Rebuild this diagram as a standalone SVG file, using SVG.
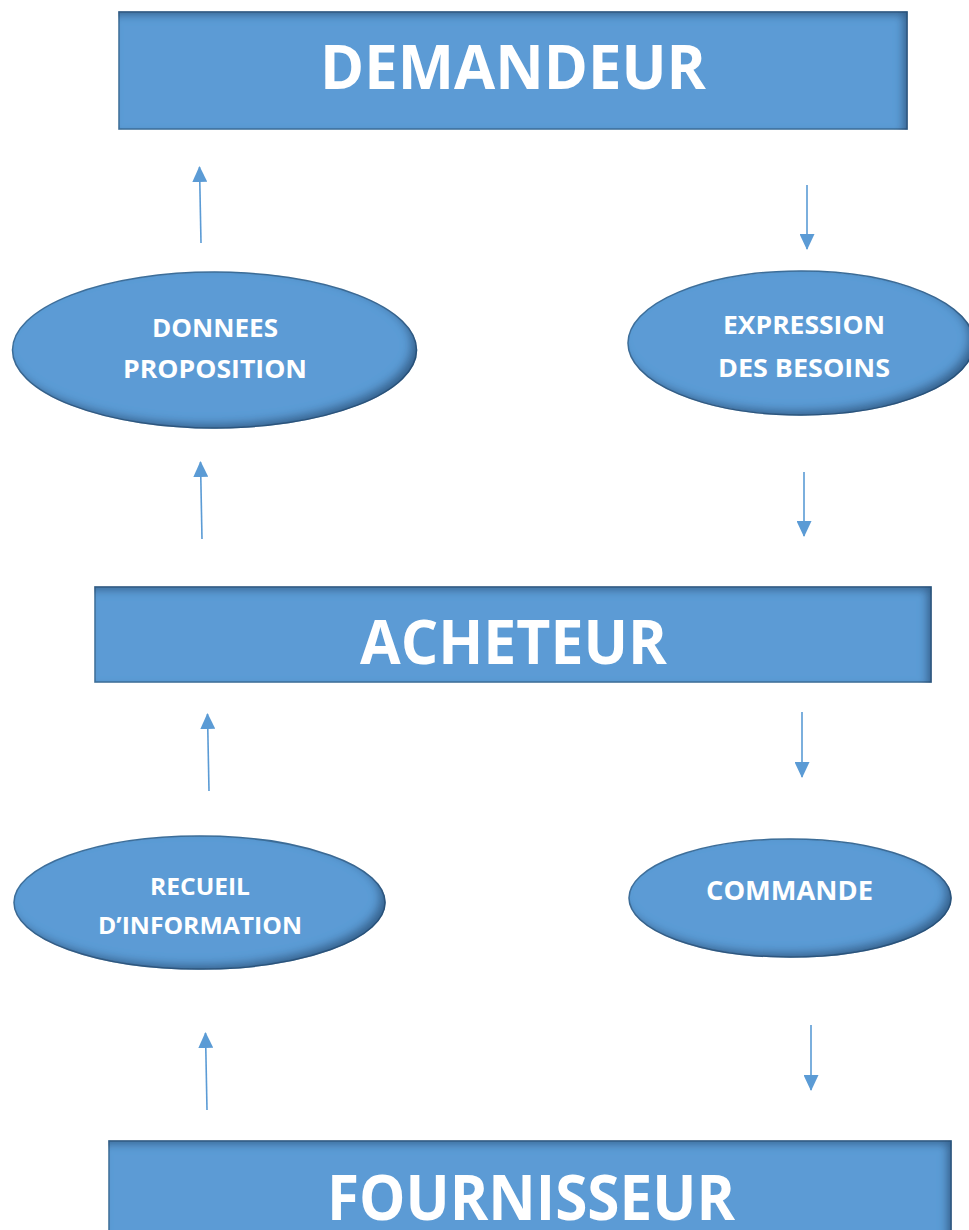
<svg xmlns="http://www.w3.org/2000/svg" width="969" height="1230" viewBox="0 0 969 1230">
  <style>
    .box { fill: #5b9bd5; stroke: #41719c; stroke-width: 1.5; }
    .big { font-family: "Open Sans", "Liberation Sans", sans-serif; font-weight: 700; fill: #ffffff; text-anchor: middle; }
    .lbl { font-family: "Open Sans", "Liberation Sans", sans-serif; font-weight: 700; fill: #ffffff; text-anchor: middle; }
    .conn { stroke: #5b9bd5; stroke-width: 1.6; fill: none; }
  </style>
  <defs>
    <filter id="insetRect" x="-5%" y="-10%" width="110%" height="120%">
      <feComponentTransfer in="SourceAlpha" result="inv"><feFuncA type="table" tableValues="1 0"/></feComponentTransfer>
      <feOffset in="inv" dx="-5" dy="4" result="off"/>
      <feGaussianBlur in="off" stdDeviation="4" result="blur"/>
      <feFlood flood-color="#1f3f66" flood-opacity="0.75"/>
      <feComposite in2="blur" operator="in" result="shadow"/>
      <feComposite in="shadow" in2="SourceAlpha" operator="in" result="inner"/>
      <feMerge><feMergeNode in="SourceGraphic"/><feMergeNode in="inner"/></feMerge>
    </filter>
    <filter id="insetEll" x="-10%" y="-15%" width="120%" height="130%">
      <feComponentTransfer in="SourceAlpha" result="inv"><feFuncA type="table" tableValues="1 0"/></feComponentTransfer>
      <feOffset in="inv" dx="-6" dy="-5" result="off"/>
      <feGaussianBlur in="off" stdDeviation="5" result="blur"/>
      <feFlood flood-color="#1f3f66" flood-opacity="0.75"/>
      <feComposite in2="blur" operator="in" result="shadow"/>
      <feComposite in="shadow" in2="SourceAlpha" operator="in" result="inner"/>
      <feMerge><feMergeNode in="SourceGraphic"/><feMergeNode in="inner"/></feMerge>
    </filter>
    <marker id="arrow" viewBox="0 0 16 15" refX="15" refY="7.5" markerWidth="16" markerHeight="15" markerUnits="userSpaceOnUse" orient="auto">
      <path d="M0,0 L16,7.5 L0,15 z" fill="#5b9bd5"/>
    </marker>
  </defs>

  <g id="demandeur">
    <rect class="box" x="119" y="12" width="788" height="117" filter="url(#insetRect)"/>
    <text class="big" x="513" y="89" font-size="60" textLength="386" lengthAdjust="spacingAndGlyphs">DEMANDEUR</text>
  </g>

  <g id="donnees">
    <ellipse class="box" cx="214.5" cy="350" rx="202" ry="78" filter="url(#insetEll)"/>
    <text class="lbl" x="215" y="337" font-size="25" textLength="126" lengthAdjust="spacingAndGlyphs">DONNEES</text>
    <text class="lbl" x="215" y="378" font-size="25" textLength="184" lengthAdjust="spacingAndGlyphs">PROPOSITION</text>
  </g>

  <g id="expression">
    <ellipse class="box" cx="801" cy="343" rx="173" ry="72" filter="url(#insetEll)"/>
    <text class="lbl" x="804" y="334" font-size="25" textLength="162" lengthAdjust="spacingAndGlyphs">EXPRESSION</text>
    <text class="lbl" x="804" y="377" font-size="25" textLength="172" lengthAdjust="spacingAndGlyphs">DES BESOINS</text>
  </g>

  <g id="acheteur">
    <rect class="box" x="95" y="587" width="836" height="95" filter="url(#insetRect)"/>
    <text class="big" x="513.5" y="664" font-size="60" textLength="307" lengthAdjust="spacingAndGlyphs">ACHETEUR</text>
  </g>

  <g id="recueil">
    <ellipse class="box" cx="199.5" cy="902.5" rx="185.5" ry="66.5" filter="url(#insetEll)"/>
    <text class="lbl" x="200" y="895" font-size="23" textLength="100" lengthAdjust="spacingAndGlyphs">RECUEIL</text>
    <text class="lbl" x="200" y="934" font-size="23" textLength="204" lengthAdjust="spacingAndGlyphs">D’INFORMATION</text>
  </g>

  <g id="commande">
    <ellipse class="box" cx="790" cy="898" rx="161" ry="59" filter="url(#insetEll)"/>
    <text class="lbl" x="789.5" y="900" font-size="26" textLength="167" lengthAdjust="spacingAndGlyphs">COMMANDE</text>
  </g>

  <g id="fournisseur">
    <rect class="box" x="109" y="1141" width="842" height="100" filter="url(#insetRect)"/>
    <text class="big" x="531" y="1220" font-size="62" textLength="408" lengthAdjust="spacingAndGlyphs">FOURNISSEUR</text>
  </g>

  <g id="connectors">
    <line class="conn" x1="201" y1="243" x2="199.5" y2="167" marker-end="url(#arrow)"/>
    <line class="conn" x1="202" y1="539" x2="200.5" y2="462" marker-end="url(#arrow)"/>
    <line class="conn" x1="209" y1="791" x2="207.5" y2="714" marker-end="url(#arrow)"/>
    <line class="conn" x1="207" y1="1110" x2="205.5" y2="1033" marker-end="url(#arrow)"/>
    <line class="conn" x1="807" y1="185" x2="807" y2="249" marker-end="url(#arrow)"/>
    <line class="conn" x1="804" y1="472" x2="804" y2="536" marker-end="url(#arrow)"/>
    <line class="conn" x1="802" y1="712" x2="802" y2="777" marker-end="url(#arrow)"/>
    <line class="conn" x1="811" y1="1025" x2="811" y2="1090" marker-end="url(#arrow)"/>
  </g>
</svg>
